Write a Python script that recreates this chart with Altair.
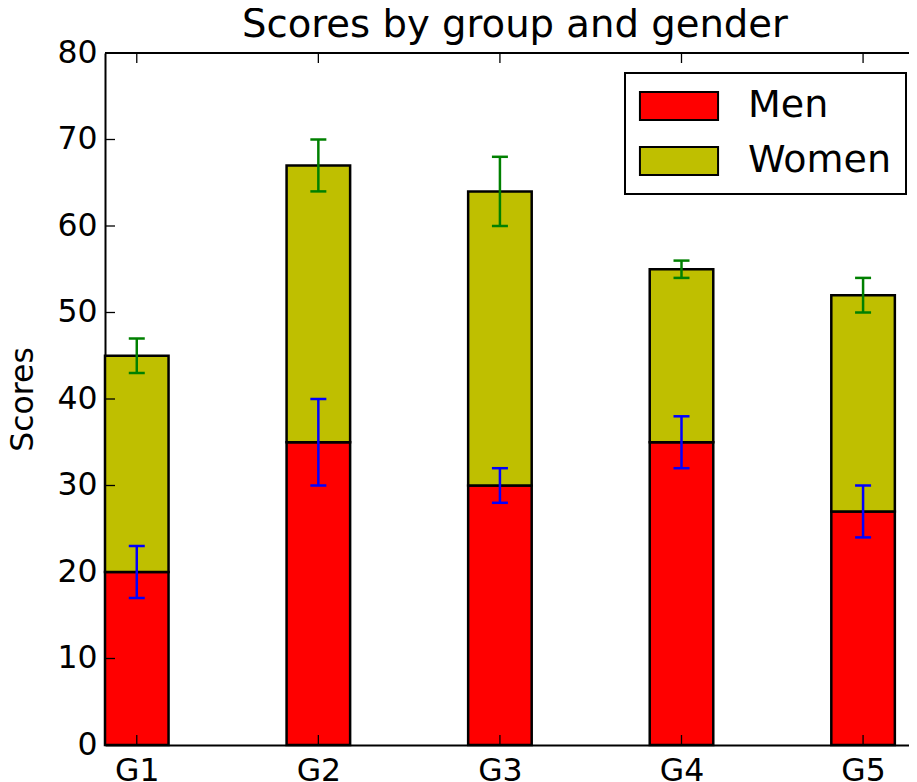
import altair as alt
import pandas as pd

TITLE = "Scores by group and gender"
groups = ["G1", "G2", "G3", "G4", "G5"]
series = ["Men", "Women"]
men_means = [20, 35, 30, 35, 27]
women_means = [25, 32, 34, 20, 25]
men_std = [3, 5, 2, 3, 3]
women_std = [2, 3, 4, 1, 2]
y_ticks = [0, 10, 20, 30, 40, 50, 60, 70, 80]

bar_colors = ["#ff0000", "#bfbf00"]
err_colors = ["#0000ff", "#008000"]

BAR_W = 0.35
XMAX = 4.472
W, H = 812, 692
FONT = "DejaVu Sans"

rows = []
for i, g in enumerate(groups):
    m, w = men_means[i], women_means[i]
    rows.append(dict(group=g, series="Men", xl=i, xr=i + BAR_W, xc=i + BAR_W / 2,
                     y0=0, y1=m, lo=m - men_std[i], hi=m + men_std[i]))
    rows.append(dict(group=g, series="Women", xl=i, xr=i + BAR_W, xc=i + BAR_W / 2,
                     y0=m, y1=m + w, lo=m + w - women_std[i], hi=m + w + women_std[i]))
df = pd.DataFrame(rows)
xticks_df = pd.DataFrame({"xc": [i + BAR_W / 2 for i in range(len(groups))]})
yticks_df = pd.DataFrame({"v": y_ticks})
title_df = pd.DataFrame({"t": [TITLE]})

xscale = alt.Scale(domain=[0, XMAX], nice=False, zero=False)
yscale = alt.Scale(domain=[0, 80], nice=False)

label_expr = "[" + ",".join("'%s'" % g for g in groups) + "][round(datum.value - %s)]" % (BAR_W / 2)

x_axis = alt.Axis(values=[i + BAR_W / 2 for i in range(len(groups))], labelExpr=label_expr,
                  title=None, ticks=False, grid=False, domain=True, domainColor="black",
                  domainWidth=2, labelPadding=10, labelAngle=0)
y_axis = alt.Axis(values=y_ticks, title="Scores", ticks=False, grid=False, domain=True,
                  domainColor="black", domainWidth=2, labelPadding=8, titlePadding=17)

leg_path = "M-2.79,-1H2.79V1H-2.79Z"

bars = alt.Chart(df).mark_bar(stroke="black", strokeWidth=2.5).encode(
    x=alt.X("xl:Q", scale=xscale, axis=x_axis),
    x2="xr:Q",
    y=alt.Y("y0:Q", scale=yscale, axis=y_axis),
    y2="y1:Q",
    fill=alt.Fill("series:N", scale=alt.Scale(domain=series, range=bar_colors),
                  legend=alt.Legend(orient="none", legendX=520, legendY=20, title=None,
                                    symbolType=leg_path, symbolSize=784,
                                    symbolStrokeColor="black", symbolStrokeWidth=2,
                                    symbolOpacity=1, labelFontSize=38, labelFont=FONT,
                                    labelColor="black", strokeColor="black",
                                    fillColor="white", padding=14, rowPadding=17,
                                    symbolOffset=21, labelOffset=50, cornerRadius=0)),
)

err_layers = []
for s, c in zip(series, err_colors):
    base = alt.Chart(df).transform_filter(alt.datum.series == s)
    err_layers.append(base.mark_rule(strokeWidth=2.5, color=c).encode(
        x="xc:Q", y="lo:Q", y2="hi:Q"))
    err_layers.append(base.mark_tick(orient="horizontal", size=16, thickness=2.5, color=c,
                                     opacity=1).encode(x="xc:Q", y="lo:Q"))
    err_layers.append(base.mark_tick(orient="horizontal", size=16, thickness=2.5, color=c,
                                     opacity=1).encode(x="xc:Q", y="hi:Q"))

tick_style = dict(color="black", strokeWidth=1.3)
yt_left = alt.Chart(yticks_df).mark_rule(**tick_style).encode(
    y="v:Q", x=alt.value(0), x2=alt.value(10))
yt_right = alt.Chart(yticks_df).mark_rule(**tick_style).encode(
    y="v:Q", x=alt.value(W - 5), x2=alt.value(W))
xt_bottom = alt.Chart(xticks_df).mark_rule(**tick_style).encode(
    x="xc:Q", y=alt.value(H), y2=alt.value(H - 10))
xt_top = alt.Chart(xticks_df).mark_rule(**tick_style).encode(
    x="xc:Q", y=alt.value(0), y2=alt.value(10))
top_spine = alt.Chart(title_df).mark_rule(color="black", strokeWidth=2).encode(
    x=alt.value(0), x2=alt.value(W), y=alt.value(0))
title_mark = alt.Chart(title_df).mark_text(
    font=FONT, fontSize=38.6, color="black", align="center", baseline="alphabetic"
).encode(text="t:N", x=alt.value(410), y=alt.value(-16))


def build(pad):
    return alt.layer(bars, *err_layers, yt_left, yt_right, xt_bottom, xt_top, top_spine,
                     title_mark).properties(
        width=W, height=H,
        autosize=alt.AutoSizeParams(type="none"),
        padding=pad,
    ).configure_view(stroke=None).configure_axis(
        labelFont=FONT, labelFontSize=31.5, labelColor="black",
        titleFont=FONT, titleFontSize=31.5, titleFontWeight="normal", titleColor="black",
    )


try:
    chart = build({"left": 97, "top": 45, "right": -8, "bottom": 37})
    chart.to_dict()
except Exception:
    chart = build({"left": 97, "top": 45, "right": 0, "bottom": 37})

try:
    trial = chart.configure_legend(strokeWidth=2)
    trial.to_dict()
    chart = trial
except Exception:
    pass

chart.save("out.html", embed_options={"renderer": "svg", "actions": False})
